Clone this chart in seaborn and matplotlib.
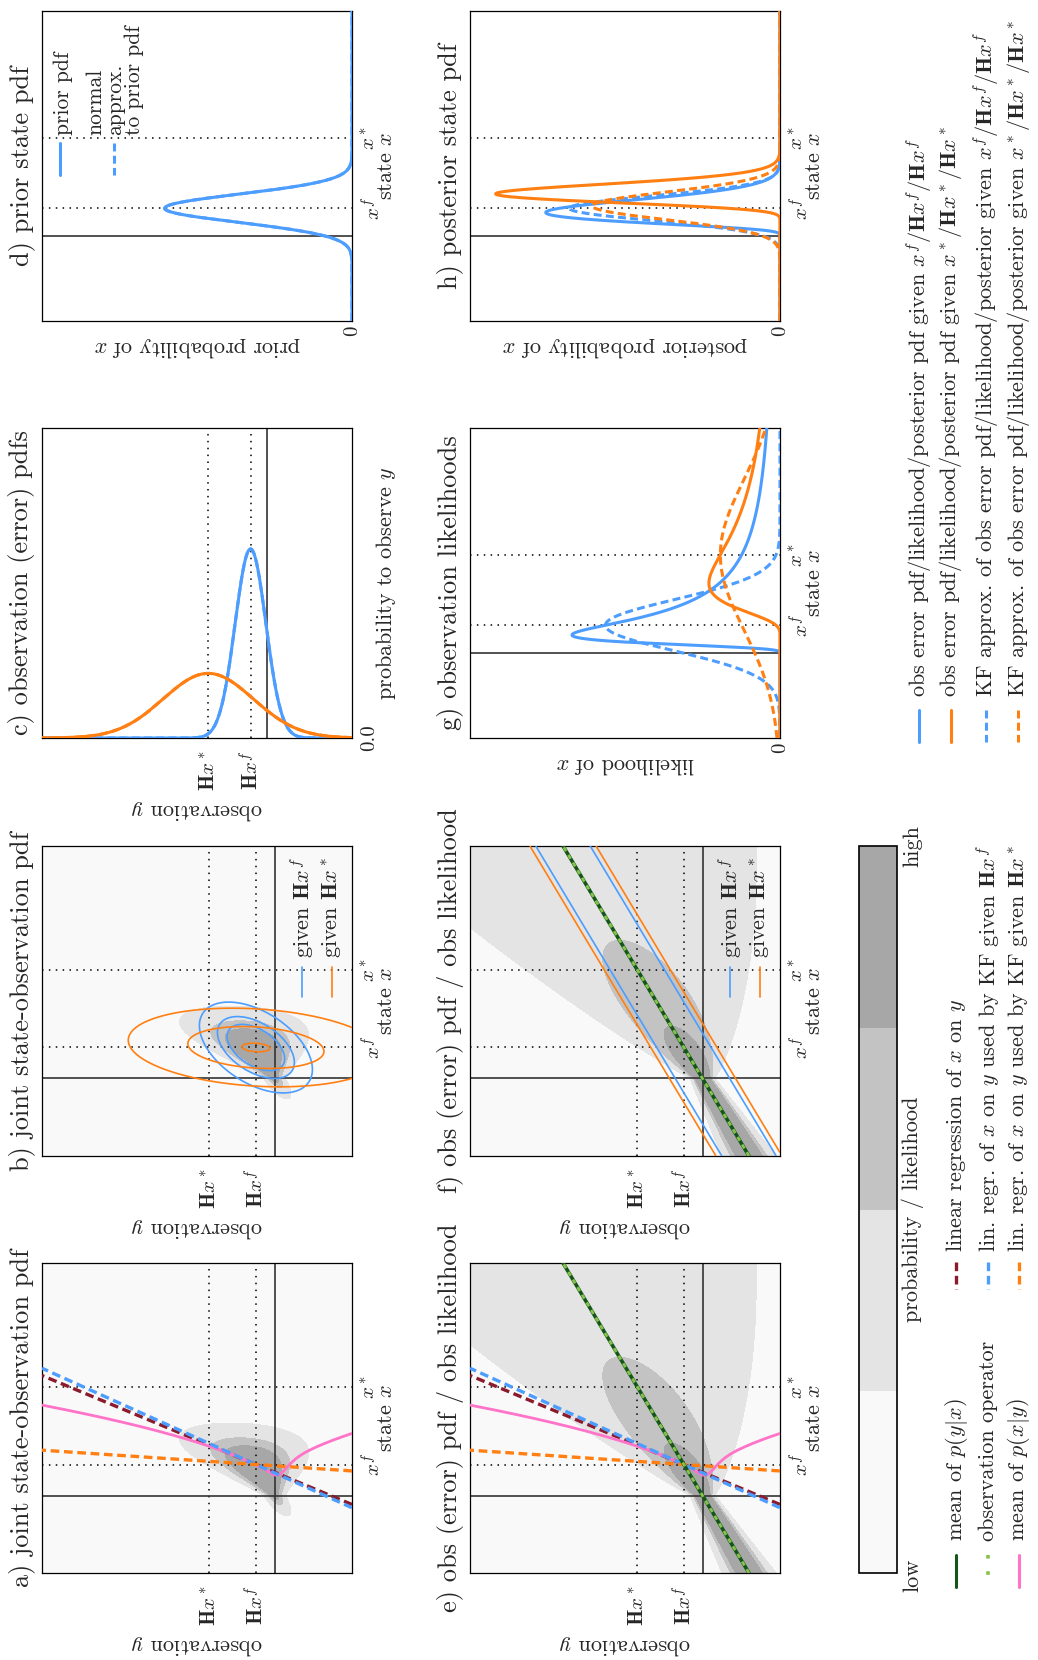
import numpy as np
import matplotlib
matplotlib.use("Agg")
import matplotlib.pyplot as plt
import seaborn as sns
from matplotlib.lines import Line2D

# ---------------- values ----------------
x_f = 0.4          # forecast state x^f
x_star = 1.4       # second state x^*
H = 0.6            # linear observation operator
prior_sd = 0.2     # spread of the prior state pdf
# state-dependent observation error spread: base, growth for x > 0, growth for x < 0
obs_sd_params = [0.05, 0.42, 0.07]
# slopes of the regressions of x on y: linear regression, KF given Hx^f, KF given Hx^*
regression_slopes = [0.416, 0.45, 0.067]
# grey shading thresholds of probability / likelihood
density_levels = [0.0, 0.05, 0.5, 1.2, 1000.0]
grey_shades = ["#f9f9f9", "#e4e4e4", "#c3c3c3", "#a7a7a7"]
kf_line_level = [0.5]
# upper limits of the probability axes of panels c, d, g, h
prob_axis_max = {"c": 3.0, "d": 3.3, "g": 3.25, "h": 3.35}

titles = {
    "a": "a) joint state-observation pdf",
    "b": "b) joint state-observation pdf",
    "c": "c) observation (error) pdfs",
    "d": "d) prior state pdf",
    "e": "e) obs (error) pdf / obs likelihood",
    "f": "f) obs (error) pdf / obs likelihood",
    "g": "g) observation likelihoods",
    "h": "h) posterior state pdf",
}

BLUE = "#4d9dff"
ORANGE = "#ff7f12"
DARKRED = "#8b1a2c"
PINK = "#ff73c8"
DKGREEN = "#14561a"
LTGREEN = "#86c34a"
DASH = (0, (2.6, 1.4))
DOT = (0, (1, 3.5))

# ---------------- style ----------------
sns.set_theme(style="white")
plt.rcParams.update({
    "font.family": ["cmr10", "DejaVu Serif"],
    "mathtext.fontset": "cm",
    "axes.formatter.use_mathtext": True,
    "axes.unicode_minus": False,
    "axes.edgecolor": "black",
    "axes.linewidth": 0.9,
    "font.size": 16,
})

W, HP = 1038, 1660
fig = plt.figure(figsize=(W / 100, HP / 100), dpi=100)


def fx(px):
    return px / W


def fy(py):
    return 1 - py / HP


def make_axes(left_px, top_px, size=310):
    return fig.add_axes([fx(left_px), fy(top_px + size), size / W, size / HP])


# ---------------- model pdfs ----------------
def obs_sd(x):
    x = np.asarray(x, float)
    b, sp, sn = obs_sd_params
    return b + sp * np.clip(x, 0, None) + sn * np.clip(-x, 0, None)


def npdf(v, m, s):
    return np.exp(-0.5 * ((v - m) / s) ** 2) / (np.sqrt(2 * np.pi) * s)


sd_f = float(obs_sd(x_f))
sd_s = float(obs_sd(x_star))

obs2 = np.linspace(-1, 3, 601)
state2 = np.linspace(-1, 3, 601)
OBS, STATE = np.meshgrid(obs2, state2)
cond = npdf(OBS, H * STATE, obs_sd(STATE))            # p(y|x)
joint = npdf(STATE, x_f, prior_sd) * cond              # p(x, y)


def gauss2(sd_o):
    cxx = prior_sd ** 2
    cxy = H * cxx
    cyy = H * H * cxx + sd_o ** 2
    det = cxx * cyy - cxy ** 2
    dx = STATE - x_f
    dy = OBS - H * x_f
    q = (cyy * dx * dx - 2 * cxy * dx * dy + cxx * dy * dy) / det
    return np.exp(-0.5 * q) / (2 * np.pi * np.sqrt(det))


# mean of p(x|y)
xs_fine = np.linspace(-1.5, 3.5, 5001)
yy = np.linspace(-1, 3, 401)
J = npdf(xs_fine[None, :], x_f, prior_sd) * npdf(yy[:, None], H * xs_fine[None, :], obs_sd(xs_fine)[None, :])
post_mean = (J * xs_fine).sum(1) / J.sum(1)

# 1D curves along state x
sx = np.linspace(-1.2, 3.2, 2201)
prior = npdf(sx, x_f, prior_sd)
lik_f = npdf(H * x_f, H * sx, obs_sd(sx))
lik_s = npdf(H * x_star, H * sx, obs_sd(sx))
lik_f_kf = npdf(H * x_f, H * sx, sd_f)
lik_s_kf = npdf(H * x_star, H * sx, sd_s)
dxs = sx[1] - sx[0]
post_f = prior * lik_f / (prior * lik_f).sum() / dxs
post_s = prior * lik_s / (prior * lik_s).sum() / dxs


def kf_post(y, sd_o):
    k = prior_sd ** 2 * H / (H * H * prior_sd ** 2 + sd_o ** 2)
    m = x_f + k * (y - H * x_f)
    v = (1 - k * H) * prior_sd ** 2
    return npdf(sx, m, np.sqrt(v))


post_f_kf = kf_post(H * x_f, sd_f)
post_s_kf = kf_post(H * x_star, sd_s)

oy = np.linspace(-1.2, 3.2, 2201)
err_f = npdf(oy, H * x_f, sd_f)
err_s = npdf(oy, H * x_star, sd_s)


# ---------------- helpers ----------------
def curve(ax, xs, ys, color, ls="-", lw=2.2, z=3):
    sns.lineplot(x=xs, y=ys, ax=ax, color=color, linestyle=ls, linewidth=lw,
                 sort=False, estimator=None, zorder=z)


def finish(ax, key, bticks, blabels, rticks, rlabels, blabel, rlabel,
           bpad=9, rpad=6, blabel_off=72):
    ax.set_xticks(bticks)
    ax.set_xticklabels(blabels, rotation=90, fontsize=15)
    ax.yaxis.tick_right()
    ax.set_yticks(rticks)
    ax.set_yticklabels(rlabels, rotation=90, fontsize=15, va="center")
    ax.tick_params(axis="x", length=0, pad=bpad)
    ax.tick_params(axis="y", length=0, pad=rpad)
    ax.set_xlabel("")
    ax.set_ylabel("")
    for sp in ax.spines.values():
        sp.set_color("black")
        sp.set_linewidth(0.9)
        sp.set_visible(True)
    ax.text(0.5, -blabel_off / 310, blabel, rotation=180, ha="center", va="center",
            transform=ax.transAxes, fontsize=16)
    ax.text(1 + 34 / 310, 0.5, rlabel, rotation=90, ha="center", va="center",
            transform=ax.transAxes, fontsize=16)
    ax.text(-20 / 310, 0.5, titles[key], rotation=90, ha="center", va="center",
            transform=ax.transAxes, fontsize=19)


def grid_lines_2d(ax):
    for v in (H * x_f, H * x_star):
        ax.axvline(v, color="black", lw=1.1, ls=DOT, zorder=2)
    for v in (x_f, x_star):
        ax.axhline(v, color="black", lw=1.1, ls=DOT, zorder=2)
    ax.axvline(0, color="#333333", lw=1.2, zorder=2)
    ax.axhline(0, color="#333333", lw=1.2, zorder=2)


def regression_lines(ax):
    ends = np.array([-1.0, 3.0])
    cols = [DARKRED, BLUE, ORANGE]
    order = [2, 0, 1]
    for i in order:
        xs_line = x_f + regression_slopes[i] * (ends - H * x_f)
        curve(ax, ends, xs_line, cols[i], ls=DASH, lw=2.4, z=4 + i)
    curve(ax, yy, post_mean, PINK, lw=2.0, z=4)


def obs_operator(ax):
    ends = np.array([-1.0, 3.0])
    curve(ax, H * ends, ends, DKGREEN, lw=2.6, z=8)
    curve(ax, H * ends, ends, LTGREEN, ls=(0, (1.6, 1.6)), lw=2.0, z=9)


A = {
    "a": make_axes(42, 1263), "b": make_axes(42, 846),
    "c": make_axes(42, 428), "d": make_axes(42, 11),
    "e": make_axes(470, 1263), "f": make_axes(470, 846),
    "g": make_axes(470, 428), "h": make_axes(470, 11),
}

obs_ticks = [H * x_star, H * x_f]
obs_labels = [r"$\mathbf{H}x^*$", r"$\mathbf{H}x^f$"]
state_ticks = [x_f, x_star]
state_labels = [r"$x^f$", r"$x^*$"]

# ---- 2D panels ----
for key in "abef":
    ax = A[key]
    ax.set_facecolor(grey_shades[0])
    field = joint if key in "ab" else cond
    cf = ax.contourf(OBS, STATE, field, levels=density_levels, colors=grey_shades, zorder=0)
    if key == "a":
        cf_main = cf
    grid_lines_2d(ax)
    ax.set_xlim(3, -1)
    ax.set_ylim(-1, 3)
    finish(ax, key, obs_ticks, obs_labels, state_ticks, state_labels,
           r"observation $y$", r"state $x$", bpad=9)

for key in "ae":
    regression_lines(A[key])
for key in "ef":
    obs_operator(A[key])

axb = A["b"]
axb.contour(OBS, STATE, gauss2(sd_f), levels=density_levels[1:4], colors=BLUE, linewidths=1.2, zorder=5)
axb.contour(OBS, STATE, gauss2(sd_s), levels=density_levels[1:4], colors=ORANGE, linewidths=1.2, zorder=5)

axf = A["f"]
axf.contour(OBS, STATE, npdf(OBS, H * STATE, sd_f), levels=kf_line_level, colors=BLUE, linewidths=1.2, zorder=5)
axf.contour(OBS, STATE, npdf(OBS, H * STATE, sd_s), levels=kf_line_level, colors=ORANGE, linewidths=1.2, zorder=5)

# ---- c: observation error pdfs ----
axc = A["c"]
curve(axc, oy, err_f, BLUE)
curve(axc, oy, err_f, BLUE, ls=DASH)
curve(axc, oy, err_s, ORANGE)
curve(axc, oy, err_s, ORANGE, ls=DASH)
for v in obs_ticks:
    axc.axvline(v, color="black", lw=1.1, ls=DOT, zorder=2)
axc.axvline(0, color="#333333", lw=1.2, zorder=2)
axc.set_xlim(3.2, -1.2)
axc.set_ylim(0, prob_axis_max["c"])
finish(axc, "c", obs_ticks, obs_labels, [0], ["0.0"],
       r"observation $y$", r"probability to observe $y$", bpad=9, rpad=6)

# ---- d, g, h: pdfs along the state axis ----
def state_panel(key, blabel, series):
    ax = A[key]
    for v in state_ticks:
        ax.axhline(v, color="black", lw=1.1, ls=DOT, zorder=2)
    ax.axhline(0, color="#333333", lw=1.2, zorder=2)
    for vals, col, ls in series:
        curve(ax, vals, sx, col, ls=ls)
    ax.set_xlim(prob_axis_max[key], 0)
    ax.set_ylim(-1.2, 3.2)
    finish(ax, key, [0], ["0"], state_ticks, state_labels, blabel, r"state $x$",
           bpad=3, blabel_off=26)


state_panel("d", r"prior probability of $x$", [(prior, BLUE, "-"), (prior, BLUE, DASH)])
state_panel("g", r"likelihood of $x$", [(lik_f, BLUE, "-"), (lik_f_kf, BLUE, DASH),
                                         (lik_s, ORANGE, "-"), (lik_s_kf, ORANGE, DASH)])
state_panel("h", r"posterior probability of $x$", [(post_f, BLUE, "-"), (post_f_kf, BLUE, DASH),
                                                    (post_s, ORANGE, "-"), (post_s_kf, ORANGE, DASH)])


# ---------------- legends (drawn in figure pixels) ----------------
def handle(x, y0, y1, color, ls="-", lw=2.2):
    fig.add_artist(Line2D([fx(x), fx(x)], [fy(y0), fy(y1)], transform=fig.transFigure,
                          color=color, ls=ls, lw=lw))


def label(x, y, s, size=16, **kw):
    fig.text(fx(x), fy(y), s, rotation=90, rotation_mode="anchor", ha="left",
             va="center", fontsize=size, **kw)


# panel d legend
handle(60, 143, 175, BLUE)
label(63, 135, "prior pdf", size=15.5)
handle(114, 143, 175, BLUE, ls=DASH)
label(115, 135, "normal\napprox.\nto prior pdf", size=15.5, linespacing=1.0)

# panels b and f legend
for x0 in (0, 428):
    handle(302 + x0, 967, 997, BLUE, lw=1.2)
    label(302 + x0, 958, r"given $\mathbf{H}x^f$")
    handle(332 + x0, 967, 997, ORANGE, lw=1.2)
    label(332 + x0, 958, r"given $\mathbf{H}x^*$")

# legend of the 1D curves
rows = [
    (919, BLUE, "-", r"obs error pdf/likelihood/posterior pdf given $x^f/\mathbf{H}x^f/\mathbf{H}x^f$"),
    (951, ORANGE, "-", r"obs error pdf/likelihood/posterior pdf given $x^*/\mathbf{H}x^*/\mathbf{H}x^*$"),
    (986, BLUE, DASH, r"KF approx. of obs error pdf/likelihood/posterior given $x^f/\mathbf{H}x^f/\mathbf{H}x^f$"),
    (1018, ORANGE, DASH, r"KF approx. of obs error pdf/likelihood/posterior given $x^*/\mathbf{H}x^*/\mathbf{H}x^*$"),
]
for x, c, ls, s in rows:
    handle(x, 710, 742, c, ls=ls)
    label(x, 697, s)

# legend of the lines in the 2D panels
rows = [
    (956, DKGREEN, "-", r"mean of $p(y|x)$", DARKRED, r"linear regression of $x$ on $y$"),
    (988, LTGREEN, DOT, "observation operator", BLUE, r"lin. regr. of $x$ on $y$ used by KF given $\mathbf{H}x^f$"),
    (1019, PINK, "-", r"mean of $p(x|y)$", ORANGE, r"lin. regr. of $x$ on $y$ used by KF given $\mathbf{H}x^*$"),
]
for x, c1, ls1, s1, c2, s2 in rows:
    handle(x, 1555, 1587, c1, ls=ls1, lw=2.6 if ls1 == DOT else 2.2)
    label(x, 1541, s1)
    handle(x, 1262, 1289, c2, ls=DASH, lw=2.4)
    label(x, 1252, s2)

# colour bar of the grey shading
cax = fig.add_axes([fx(859), fy(1573), 38 / W, 727 / HP])
cb = fig.colorbar(cf_main, cax=cax, orientation="vertical")
cb.set_ticks([])
cb.ax.minorticks_off()
cb.outline.set_linewidth(1.2)
cb.outline.set_edgecolor("black")
fig.text(fx(913), fy(1575), "low", rotation=90, ha="center", va="center", fontsize=16)
fig.text(fx(913), fy(846), "high", rotation=90, ha="center", va="center", fontsize=16)
fig.text(fx(913), fy(1209), "probability / likelihood", rotation=90, ha="center", va="center", fontsize=16)

fig.savefig("out.png", dpi=100, facecolor="white")
